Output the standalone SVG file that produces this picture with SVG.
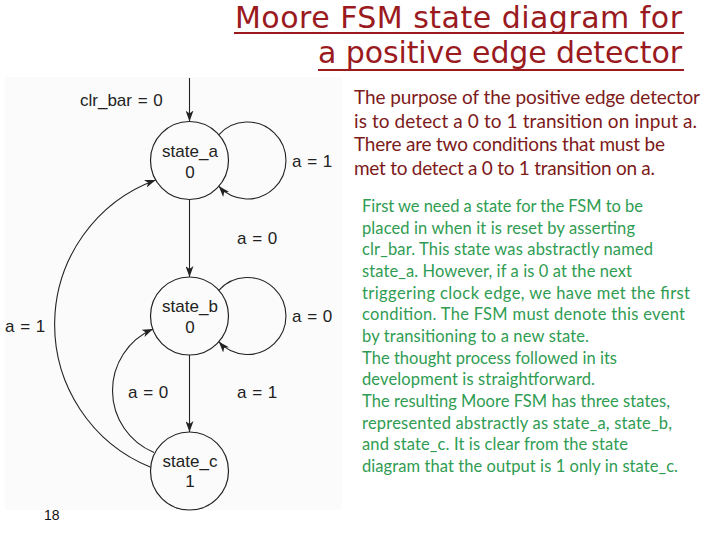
<svg xmlns="http://www.w3.org/2000/svg" width="720" height="540" viewBox="0 0 720 540">
  <defs>
    <marker id="arrow" markerUnits="userSpaceOnUse" markerWidth="12" markerHeight="8" refX="11" refY="4" orient="auto">
      <path d="M0,0 L11,4 L0,8 L3,4 Z" fill="#222"/>
    </marker>
    <style>
      .title { font-family: "DejaVu Sans", "Liberation Sans", sans-serif; font-size: 30px; fill: #9a1a1e; }
      .uline { stroke: #9a1a1e; stroke-width: 2; }
      .red { font-family: Lato, "Open Sans", "Liberation Sans", sans-serif; font-size: 19px; fill: #7d1a1a; }
      .green { font-family: Lato, "Open Sans", "Liberation Sans", sans-serif; font-size: 16.5px; fill: #2f9c52; }
      .state { fill: none; stroke: #222; stroke-width: 1.2; }
      .edge { fill: none; stroke: #222; stroke-width: 1.1; marker-end: url(#arrow); }
      .lbl { font-family: "Liberation Sans", Arial, sans-serif; font-size: 17px; fill: #222; word-spacing: 1px; }
      .slbl { font-family: "Liberation Sans", Arial, sans-serif; font-size: 17px; fill: #222; text-anchor: middle; }
      .page { font-family: "Liberation Sans", Arial, sans-serif; font-size: 14px; fill: #111; }
    </style>
  </defs>

  <rect x="0" y="0" width="720" height="540" fill="#ffffff"/>
  <rect x="5" y="77" width="337" height="433" fill="#fbfbfb"/>

  <g id="title">
    <text class="title" x="235" y="28" textLength="447">Moore FSM state diagram for</text>
    <line class="uline" x1="234" y1="33" x2="684" y2="33"/>
    <text class="title" x="318" y="63" textLength="364">a positive edge detector</text>
    <line class="uline" x1="318" y1="70" x2="684" y2="70"/>
  </g>

  <g id="purpose-text">
    <text class="red" x="354" y="104" textLength="346">The purpose of the positive edge detector</text>
    <text class="red" x="354" y="128" textLength="343">is to detect a 0 to 1 transition on input a.</text>
    <text class="red" x="354" y="151" textLength="311">There are two conditions that must be</text>
    <text class="red" x="354" y="175" textLength="301">met to detect a 0 to 1 transition on a.</text>
  </g>

  <g id="explanation-text">
    <text class="green" x="362" y="212" textLength="281">First we need a state for the FSM to be</text>
    <text class="green" x="362" y="233.7" textLength="273">placed in when it is reset by asserting</text>
    <text class="green" x="362" y="255.3" textLength="291">clr_bar. This state was abstractly named</text>
    <text class="green" x="362" y="277" textLength="270">state_a. However, if a is 0 at the next</text>
    <text class="green" x="362" y="298.7" textLength="328">triggering clock edge, we have met the first</text>
    <text class="green" x="362" y="320.3" textLength="323">condition. The FSM must denote this event</text>
    <text class="green" x="362" y="342" textLength="227">by transitioning to a new state.</text>
    <text class="green" x="362" y="363.7" textLength="255">The thought process followed in its</text>
    <text class="green" x="362" y="385.3" textLength="233">development is straightforward.</text>
    <text class="green" x="362" y="407" textLength="308">The resulting Moore FSM has three states,</text>
    <text class="green" x="362" y="428.7" textLength="310">represented abstractly as state_a, state_b,</text>
    <text class="green" x="362" y="450.3" textLength="266">and state_c. It is clear from the state</text>
    <text class="green" x="362" y="472" textLength="316">diagram that the output is 1 only in state_c.</text>
  </g>

  <g id="connectors">
    <g id="reset">
      <path class="edge" d="M189.5,78 L189.5,121.5"/>
      <text class="lbl" x="80" y="106">clr_bar = 0</text>
    </g>
    <g id="a-loop">
      <path class="edge" d="M218.8,134.8 A38.5,38.5 0 1 1 218.8,186.2"/>
      <text class="lbl" x="292" y="167">a = 1</text>
    </g>
    <g id="a-to-b">
      <path class="edge" d="M189.5,199.5 L189.5,277"/>
      <text class="lbl" x="237" y="244">a = 0</text>
    </g>
    <g id="b-loop">
      <path class="edge" d="M218.8,290.3 A38.5,38.5 0 1 1 218.8,341.7"/>
      <text class="lbl" x="292" y="322">a = 0</text>
    </g>
    <g id="b-to-c">
      <path class="edge" d="M189.5,355 L189.5,432"/>
      <text class="lbl" x="237" y="398">a = 1</text>
    </g>
    <g id="c-to-b">
      <path class="edge" d="M154,452.5 A67,67 0 0 1 153,329"/>
      <text class="lbl" x="128" y="398">a = 0</text>
    </g>
    <g id="c-to-a">
      <path class="edge" d="M150.7,467.3 A154,154 0 0 1 155.7,180"/>
      <text class="lbl" x="5" y="332">a = 1</text>
    </g>
  </g>

  <g id="state_a">
    <circle class="state" cx="189.5" cy="160.5" r="39"/>
    <text class="slbl" x="190" y="156.5">state_a</text>
    <text class="slbl" x="190" y="177.5">0</text>
  </g>
  <g id="state_b">
    <circle class="state" cx="189.5" cy="316" r="39"/>
    <text class="slbl" x="190" y="312">state_b</text>
    <text class="slbl" x="190" y="333">0</text>
  </g>
  <g id="state_c">
    <circle class="state" cx="189.5" cy="471" r="39"/>
    <text class="slbl" x="190" y="467">state_c</text>
    <text class="slbl" x="190" y="487">1</text>
  </g>

  <text id="page-number" class="page" x="44" y="520">18</text>
</svg>
